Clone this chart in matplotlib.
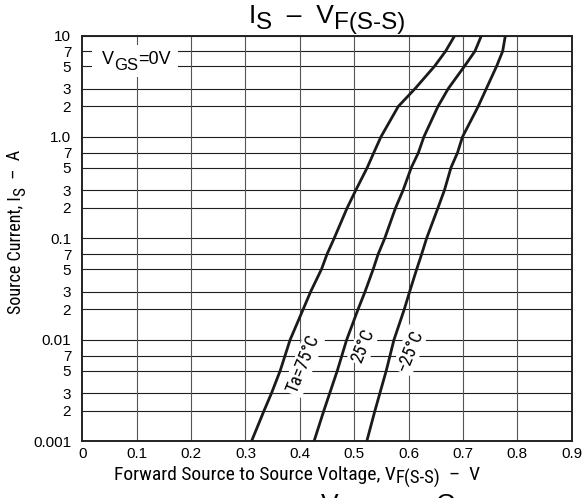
import matplotlib
matplotlib.use("Agg")
import matplotlib.pyplot as plt
from matplotlib import font_manager
from matplotlib.patches import Rectangle
from matplotlib.transforms import Bbox

# --- data --------------------------------------------------------------
curve_labels = ["Ta=75\u00b0C", "25\u00b0C", "\u221225\u00b0C"]

i_75 = [0.001, 0.002, 0.003, 0.005, 0.01, 0.02, 0.03, 0.05, 0.07, 0.1,
        0.2, 0.3, 0.5, 0.7, 1.0, 2, 3, 5, 7, 10]
v_75 = [0.311, 0.334, 0.348, 0.364, 0.382, 0.406, 0.420, 0.440, 0.450, 0.463,
        0.487, 0.503, 0.524, 0.536, 0.549, 0.581, 0.612, 0.648, 0.668, 0.685]

i_25 = [0.001, 0.002, 0.005, 0.01, 0.02, 0.03, 0.05, 0.07, 0.1,
        0.2, 0.3, 0.5, 0.7, 1.0, 2, 3, 5, 7, 10]
v_25 = [0.426, 0.444, 0.469, 0.486, 0.507, 0.520, 0.535, 0.544, 0.556,
        0.576, 0.590, 0.605, 0.618, 0.628, 0.654, 0.673, 0.703, 0.722, 0.734]

i_m25 = [0.001, 0.002, 0.005, 0.01, 0.02, 0.03, 0.05, 0.07, 0.1,
         0.2, 0.3, 0.5, 0.7, 1.0, 2, 3, 5, 7, 10]
v_m25 = [0.523, 0.538, 0.559, 0.573, 0.592, 0.602, 0.615, 0.624, 0.633,
         0.654, 0.666, 0.678, 0.690, 0.699, 0.728, 0.743, 0.762, 0.773, 0.778]

x_ticks = [0, 0.1, 0.2, 0.3, 0.4, 0.5, 0.6, 0.7, 0.8, 0.9]
x_tick_labels = ["0", "0.1", "0.2", "0.3", "0.4", "0.5", "0.6", "0.7", "0.8", "0.9"]
y_major = [0.001, 0.01, 0.1, 1.0, 10]
y_major_labels = ["0.001", "0.01", "0.1", "1.0", "10"]
y_minor_steps = [2, 3, 5, 7]

# label anchor points (data coords)
label_pos = [(0.407, 0.0058), (0.517, 0.0088), (0.603, 0.0079)]

W, H = 585, 498


def find_narrow():
    # look for any condensed / narrow sans face that happens to be installed
    prefs = ["Liberation Sans Narrow", "Roboto Condensed", "Open Sans Condensed",
             "Noto Sans", "DejaVu Sans"]
    fonts = font_manager.fontManager.ttflist
    for name in prefs:
        for f in fonts:
            if f.style != "normal" or f.weight not in (400, "normal", "regular"):
                continue
            condensed = f.stretch in ("condensed", "semi-condensed") or "Condensed" in f.fname or "Narrow" in f.name
            if f.name == name and condensed:
                return font_manager.FontProperties(fname=f.fname)
    return font_manager.FontProperties(family="Liberation Sans")


plt.rcParams["font.family"] = ["Liberation Sans", "DejaVu Sans"]
narrow = find_narrow()


def nfont(size):
    fp = narrow.copy()
    fp.set_size(size)
    return fp


def rfont(size):
    return font_manager.FontProperties(family="Liberation Sans", size=size)


fig = plt.figure(figsize=(W / 100, H / 100), dpi=100, facecolor="white")
ax = fig.add_axes([0.1407, 0.1135, 0.9773 - 0.1407, 0.9287 - 0.1135])


def run_text(cx, cy, pieces, rotation=0, zorder=5):
    """Draw text runs (string, font, baseline shift in pt) one after the other,
    then centre the whole run on pixel position (cx, cy)."""
    first = fig.text(0, 0, pieces[0][0], fontproperties=pieces[0][1],
                     rotation=rotation, zorder=zorder,
                     ha="right" if rotation else "left", va="bottom")
    arts = [first]
    prev, prev_dy = first, pieces[0][2]
    for s, fp, dy in pieces[1:]:
        rel = dy - prev_dy
        if rotation:
            kw = dict(xy=(1, 1), xytext=(-rel, 0), ha="right", va="bottom")
        else:
            kw = dict(xy=(1, 0), xytext=(0, rel), ha="left", va="bottom")
        a = ax.annotate(s, xycoords=prev, textcoords="offset points",
                        fontproperties=fp, rotation=rotation,
                        annotation_clip=False, zorder=zorder, **kw)
        arts.append(a)
        prev, prev_dy = a, dy
    fig.canvas.draw()
    r = fig.canvas.get_renderer()
    bb = Bbox.union([a.get_window_extent(r) for a in arts])
    dx = cx - (bb.x0 + bb.x1) / 2
    dy_px = (H - cy) - (bb.y0 + bb.y1) / 2
    first.set_position((dx / W, dy_px / H))
    return arts


for v, i in [(v_75, i_75), (v_25, i_25), (v_m25, i_m25)]:
    ax.plot(v, i, color="#1a1a1a", lw=2.0, solid_capstyle="butt", zorder=4)

ax.set_yscale("log")
ax.set_xlim(0, 0.9)
ax.set_ylim(0.001, 10)

ax.set_xticks(x_ticks)
ax.set_xticklabels(x_tick_labels, fontsize=11)
ax.set_yticks(y_major)
ax.set_yticklabels(y_major_labels, fontsize=11)
minor_vals = [d * s for d in y_major[:-1] for s in y_minor_steps]
ax.set_yticks(minor_vals, minor=True)
ax.set_yticklabels([str(s) for d in y_major[:-1] for s in y_minor_steps], minor=True, fontsize=11)
ax.tick_params(axis="both", which="both", length=0)
ax.tick_params(axis="y", which="both", pad=8)
ax.tick_params(axis="x", pad=4)

for y in y_major + minor_vals:
    ax.axhline(y, color="#1f1f1f", lw=0.8, zorder=1)
for x in x_ticks[1:-1]:
    ax.axvline(x, color="#555555", lw=0.8, zorder=1)
for sp in ax.spines.values():
    sp.set_linewidth(1.4)
    sp.set_color("#222222")

# white patch behind the V_GS note
ax.add_patch(Rectangle((0.02, 0.898), 0.176, 0.079, transform=ax.transAxes,
                       fc="white", ec="none", zorder=2))

for (x, y), lab in zip(label_pos, curve_labels):
    ax.text(x, y, lab, fontproperties=nfont(13), rotation=68,
            ha="center", va="center", rotation_mode="anchor", zorder=3,
            bbox=dict(boxstyle="square,pad=0.1", fc="white", ec="none"))

run_text(136, 62, [("V", rfont(13), 0), ("GS", rfont(12), -3.5), ("=0V", rfont(13), 0)])
run_text(327, 19, [("I", rfont(19), 0), ("S", rfont(17.5), -4),
                   ("  \u2013  V", rfont(19), 0), ("F(S-S)", rfont(17.5), -4)])
run_text(297, 477, [("Forward Source to Source Voltage, V", nfont(14), 0),
                    ("F(S-S)", nfont(13.5), -3.5), ("  \u2013  V", nfont(14), 0)])
run_text(17, 232, [("Source Current, I", nfont(13), 0), ("S", nfont(12.5), -3),
                   ("  \u2013  A", nfont(13), 0)], rotation=90)

# fragments of neighbouring headings cut by the image edges
run_text(423, -9, [("V", rfont(16), 0), ("GS", rfont(15), -4)])
fig.text(330 / W, (H - 493) / H, "V", fontproperties=rfont(19), ha="center", va="top")
fig.text(445 / W, (H - 493) / H, "C", fontproperties=rfont(19), ha="center", va="top")

fig.savefig("out.png", dpi=100, facecolor="white")
